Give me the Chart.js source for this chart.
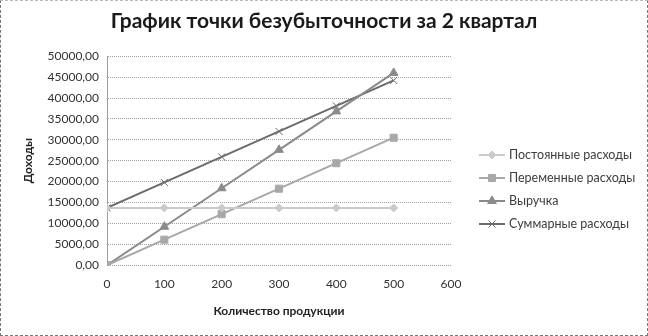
<!DOCTYPE html>
<html>
<head>
<meta charset="utf-8">
<script src="https://cdn.jsdelivr.net/npm/chart.js@4/dist/chart.umd.min.js"></script>
<style>
  html, body { margin: 0; padding: 0; background: #fff; }
  #wrap { width: 648px; height: 336px; box-sizing: border-box; border: 1px dashed #777; border-top-color: #bbb; }
  #wrap canvas { display: block; }
</style>
</head>
<body>
<div id="wrap"><canvas id="myChart" width="646" height="334"></canvas></div>
<script>
// данные графика
const kolichestvo = [0, 100, 200, 300, 400, 500];
const postoyannye = [13700, 13700, 13700, 13700, 13700, 13700];
const peremennye = [0, 6100, 12200, 18300, 24400, 30500];
const vyruchka = [0, 9200, 18400, 27600, 36800, 46000];
const summarnye = [13700, 19800, 25900, 32000, 38100, 44200];
const nazvaniya = ['Постоянные расходы', 'Переменные расходы', 'Выручка', 'Суммарные расходы'];
const xTicks = [0, 100, 200, 300, 400, 500, 600];

const FONT = 'Lato, "Open Sans", sans-serif';

function toPoints(ys) {
  return kolichestvo.map((x, i) => ({ x: x, y: ys[i] }));
}

function serie(label, ys, color, marker, size) {
  return {
    label: label,
    data: toPoints(ys),
    showLine: true,
    borderColor: color,
    backgroundColor: color,
    borderWidth: 2,
    pointStyle: marker,
    pointRadius: size,
    pointBorderColor: color,
    pointBackgroundColor: color,
    pointBorderWidth: 1
  };
}

// заголовок по центру всего холста + легенда справа
const legendaPlugin = {
  id: 'legenda',
  afterLayout(chart) {
    const t = chart.titleBlock;
    if (t) {
      t.left = 0;
      t.right = chart.width;
      t.width = chart.width;
    }
  },
  afterDraw(chart) {
    const ctx = chart.ctx;
    const x0 = 478;
    let y = 154;
    ctx.save();
    chart.data.datasets.forEach(ds => {
      ctx.strokeStyle = ds.borderColor;
      ctx.fillStyle = ds.pointBackgroundColor;
      ctx.lineWidth = 2;
      ctx.beginPath();
      ctx.moveTo(x0, y);
      ctx.lineTo(x0 + 26, y);
      ctx.stroke();
      ctx.lineWidth = 1;
      Chart.helpers.drawPoint(ctx, {
        pointStyle: ds.pointStyle,
        radius: ds.pointRadius,
        borderWidth: ds.pointBorderWidth,
        rotation: 0
      }, x0 + 13, y);
      ctx.fillStyle = '#3d3d3d';
      ctx.font = '12.5px ' + FONT;
      ctx.textBaseline = 'middle';
      ctx.textAlign = 'left';
      ctx.fillText(ds.label, x0 + 30, y);
      y += 23;
    });
    ctx.restore();
  }
};

new Chart('myChart', {
  type: 'scatter',
  data: {
    datasets: [
      serie(nazvaniya[0], postoyannye, '#cacaca', 'rectRot', 4),
      serie(nazvaniya[1], peremennye, '#a8a8a8', 'rect', 5),
      serie(nazvaniya[2], vyruchka, '#8a8a8a', 'triangle', 5),
      serie(nazvaniya[3], summarnye, '#6b6b6b', 'crossRot', 5)
    ]
  },
  options: {
    responsive: false,
    animation: false,
    layout: { padding: { left: 10, right: 196, top: 0, bottom: 17 } },
    plugins: {
      legend: { display: false },
      tooltip: { enabled: false },
      title: {
        display: true,
        text: 'График точки безубыточности за 2 квартал',
        color: '#1a1a1a',
        font: { family: FONT, size: 21, weight: 'bold' },
        padding: { top: 8, bottom: 22 }
      }
    },
    scales: {
      x: {
        type: 'linear',
        min: 0,
        max: 600,
        afterBuildTicks(axis) { axis.ticks = xTicks.map(v => ({ value: v })); },
        grid: { display: false, drawTicks: false },
        border: { display: false },
        ticks: { color: '#333', font: { family: FONT, size: 12 }, padding: 12 },
        title: {
          display: true,
          text: 'Количество продукции',
          color: '#222',
          font: { family: FONT, size: 12, weight: 'bold' },
          padding: { top: 0, bottom: 0 }
        }
      },
      y: {
        min: 0,
        max: 50000,
        afterFit(axis) { axis.width = 96; },
        grid: { color: '#a0a0a0', lineWidth: 1, drawTicks: false },
        border: { display: true, color: '#a0a0a0', dash: [1, 1] },
        ticks: {
          stepSize: 5000,
          color: '#333',
          padding: 8,
          font: { family: FONT, size: 12 },
          callback: v => v.toFixed(2).replace('.', ',')
        },
        title: {
          display: true,
          text: 'Доходы',
          color: '#222',
          font: { family: FONT, size: 12, weight: 'bold' },
          padding: { top: 10, bottom: 4 }
        }
      }
    }
  },
  plugins: [legendaPlugin]
});
</script>
</body>
</html>
